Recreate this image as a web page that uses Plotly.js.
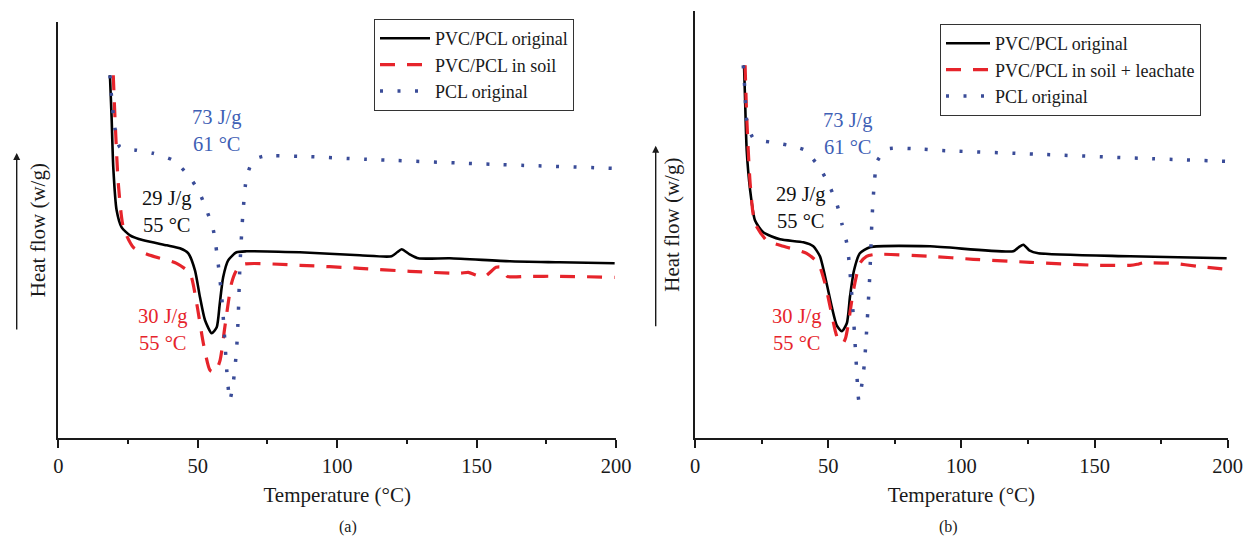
<!DOCTYPE html>
<html>
<head>
<meta charset="utf-8">
<script src="https://cdn.plot.ly/plotly-3.0.1.min.js"></script>
<style>html,body{margin:0;padding:0;background:#fff;}#chart{width:1244px;height:538px;}</style>
</head>
<body>
<div id="chart"></div>
<script>
// ---- Panel (a) ----
var aBlackT = [18.5, 19.1, 19.7, 20.9, 22.7, 25.7, 30.5, 38.9, 43.6, 46.6, 49.0, 50.8, 52.6, 55.0, 56.8, 57.9, 59.1, 60.9, 63.9, 67.5, 86.6, 108.1, 119.5, 121.5, 123.1, 126.0, 129.1, 140.4, 161.9, 179.8, 199.5];
var aBlackV = [363, 321, 271, 228, 211, 203, 198, 193, 190, 185, 168, 141, 118, 105, 111, 135, 161, 178, 186, 187, 186, 183, 182, 186, 189, 184, 180, 180, 177, 176, 175];

var aRedT = [19.7, 20.3, 21.5, 23.3, 26.9, 32.9, 42.4, 47.2, 49.6, 52.0, 54.4, 56.2, 58.0, 59.7, 62.1, 63.9, 66.3, 86.6, 108.1, 126.0, 144.0, 147.0, 150.0, 153.0, 157.0, 159.0, 161.0, 168.0, 179.8, 199.5];
var aRedV = [363, 321, 255, 211, 191, 183, 175, 165, 135, 95, 68, 66, 78, 111, 155, 168, 174, 173, 170, 167, 165, 166, 163, 162, 171, 171, 162, 162, 162, 161];

var aBlueT = [18.5, 19.1, 20.3, 22.1, 28.1, 34.0, 41.2, 46.6, 50.2, 53.2, 55.6, 57.3, 58.6, 59.7, 60.4, 61.5, 62.7, 63.9, 64.5, 65.1, 66.1, 67.5, 69.9, 73.5, 86.6, 110.5, 155.9, 198.9];
var aBlueV = [363, 341, 310, 291, 288, 285, 278, 263, 248, 228, 208, 175, 141, 98, 68, 38, 55, 88, 121, 171, 221, 261, 278, 282, 282, 279, 274, 270];

// ---- Panel (b) ----
var bBlackT = [18.4, 18.8, 19.4, 20.7, 22.5, 25.6, 31.9, 40.7, 44.4, 46.9, 49.4, 51.3, 53.2, 55.1, 57.0, 58.2, 59.7, 61.9, 65.7, 88.2, 119.5, 121.5, 123.3, 125.5, 128.9, 163.3, 199.6];
var bBlackV = [373, 338, 288, 248, 218, 206, 199, 196, 192, 182, 155, 132, 113, 107, 115, 142, 168, 185, 191, 192, 187, 191, 193.5, 188, 185, 182, 180];

var bRedT = [18.8, 19.4, 20.7, 22.5, 26.9, 33.2, 41.9, 46.3, 48.8, 50.7, 52.6, 53.8, 55.5, 56.5, 57.6, 58.7, 60.0, 61.9, 64.4, 68.1, 88.2, 104.5, 125.8, 150.8, 163.3, 166.0, 168.3, 172.0, 179.6, 188.4, 199.6];
var bRedV = [373, 322, 255, 215, 198, 192, 185, 175, 155, 132, 108, 98, 95, 100, 115, 135, 155, 175, 182, 184, 182, 179, 176, 173, 173, 174, 175.5, 175.5, 175, 172, 169];

var bBlueT = [18.1, 18.8, 19.4, 21.9, 28.8, 35.0, 41.3, 46.9, 50.0, 53.2, 55.1, 57.0, 57.9, 58.9, 59.8, 60.6, 61.5, 62.7, 63.6, 64.6, 65.6, 66.5, 67.4, 68.4, 72.0, 85.8, 90.7, 129.5, 167.1, 199.0];
var bBlueV = [373, 345, 318, 300, 296, 293, 288, 270, 255, 235, 215, 195, 175, 142, 108, 72, 38, 55, 75, 115, 162, 222, 258, 277, 289, 289, 288, 284, 280, 277];

var seriesNames = ['PVC/PCL original', 'PVC/PCL in soil', 'PCL original'];
var seriesNamesB = ['PVC/PCL original', 'PVC/PCL in soil + leachate', 'PCL original'];
var xTicks = [0, 50, 100, 150, 200];

var FONT = 'Liberation Serif, Times New Roman, serif';
var RED = '#e6242b', BLUE = '#3a4c98', BLUE_TXT = '#3f5fb5';
var ANN = 20.5;

function tr(x, y, name, style, xa, ya, leg) {
  var line = {shape: 'spline', smoothing: 0.6};
  if (style === 'solid') { line.color = '#000'; line.width = 2.6; line.dash = 'solid'; }
  if (style === 'dash') { line.color = RED; line.width = 3.2; line.dash = '15px,12px'; }
  if (style === 'dot') { line.color = BLUE; line.width = 3.5; line.dash = '3px,14.5px'; }
  return {x: x, y: y, name: name, type: 'scatter', mode: 'lines', line: line,
          xaxis: xa, yaxis: ya, legend: leg, hoverinfo: 'skip'};
}

var data = [
  tr(aBlackT, aBlackV, seriesNames[0], 'solid', 'x', 'y', 'legend'),
  tr(aRedT, aRedV, seriesNames[1], 'dash', 'x', 'y', 'legend'),
  tr(aBlueT, aBlueV, seriesNames[2], 'dot', 'x', 'y', 'legend'),
  tr(bBlackT, bBlackV, seriesNamesB[0], 'solid', 'x2', 'y2', 'legend2'),
  tr(bRedT, bRedV, seriesNamesB[1], 'dash', 'x2', 'y2', 'legend2'),
  tr(bBlueT, bBlueV, seriesNamesB[2], 'dot', 'x2', 'y2', 'legend2')
];

function xax(domain) {
  return {domain: domain, range: [0, 200], tickvals: xTicks, ticktext: xTicks.map(String),
    showline: true, linecolor: '#1a1a1a', linewidth: 2, ticks: 'outside', ticklen: 8, tickwidth: 2,
    tickcolor: '#1a1a1a', showgrid: false, zeroline: false, fixedrange: true,
    tickfont: {family: FONT, size: 20.5, color: '#1a1a1a'},
    minor: {tickvals: [25, 75, 125, 175], ticks: 'outside', ticklen: 4, tickwidth: 2, tickcolor: '#1a1a1a', showgrid: false},
    title: {text: 'Temperature (°C)', font: {family: FONT, size: 21, color: '#1a1a1a'}, standoff: 11},
    automargin: false};
}
function yax(domain, top, anchor, standoff) {
  return {domain: domain, range: [0, top], showline: true, linecolor: '#1a1a1a', linewidth: 2,
    ticks: '', showticklabels: false, showgrid: false, zeroline: false, fixedrange: true,
    anchor: anchor,
    title: {text: 'Heat flow (w/g)', font: {family: FONT, size: 21, color: '#1a1a1a'}, standoff: standoff},
    automargin: false};
}

var layout = {
  width: 1244, height: 538,
  margin: {l: 0, r: 0, t: 0, b: 0},
  paper_bgcolor: '#fff', plot_bgcolor: '#fff',
  font: {family: FONT, color: '#1a1a1a'},
  xaxis: Object.assign(xax([0.0469, 0.4952]), {anchor: 'y'}),
  yaxis: yax([0.1853, 0.9591], 416.3, 'x', 5),
  xaxis2: Object.assign(xax([0.5587, 0.9869]), {anchor: 'y2'}),
  yaxis2: yax([0.1853, 0.9796], 427.3, 'x2', 8),
  legend: {x: 374 / 1244, y: 1 - 19 / 538, xanchor: 'left', yanchor: 'top',
    bgcolor: '#fff', bordercolor: '#333', borderwidth: 1,
    font: {family: FONT, size: 18, color: '#1a1a1a'}, itemwidth: 50, tracegroupgap: 0},
  legend2: {x: 940 / 1244, y: 1 - 24 / 538, xanchor: 'left', yanchor: 'top',
    bgcolor: '#fff', bordercolor: '#333', borderwidth: 1,
    font: {family: FONT, size: 18, color: '#1a1a1a'}, itemwidth: 44, tracegroupgap: 0},
  showlegend: true,
  annotations: [
    {xref: 'x', yref: 'y', x: 56.8, y: 307.5, text: '73 J/g<br>61 °C', showarrow: false, font: {family: FONT, size: ANN, color: BLUE_TXT}},
    {xref: 'x', yref: 'y', x: 39.1, y: 226.6, text: '29 J/g<br>55 °C', showarrow: false, font: {family: FONT, size: ANN, color: '#111'}},
    {xref: 'x', yref: 'y', x: 37.6, y: 109.1, text: '30 J/g<br>55 °C', showarrow: false, font: {family: FONT, size: ANN, color: RED}},
    {xref: 'x2', yref: 'y2', x: 57.6, y: 305, text: '73 J/g<br>61 °C', showarrow: false, font: {family: FONT, size: ANN, color: BLUE_TXT}},
    {xref: 'x2', yref: 'y2', x: 39.8, y: 230.8, text: '29 J/g<br>55 °C', showarrow: false, font: {family: FONT, size: ANN, color: '#111'}},
    {xref: 'x2', yref: 'y2', x: 38.2, y: 109.1, text: '30 J/g<br>55 °C', showarrow: false, font: {family: FONT, size: ANN, color: RED}},
    {xref: 'paper', yref: 'paper', x: 16.7 / 1244, y: 1 - 153 / 538, ax: 0, ay: 178, axref: 'pixel', ayref: 'pixel',
      text: '', showarrow: true, arrowhead: 2, arrowsize: 1, arrowwidth: 1.4, arrowcolor: '#1a1a1a'},
    {xref: 'paper', yref: 'paper', x: 655.7 / 1244, y: 1 - 145.7 / 538, ax: 0, ay: 182, axref: 'pixel', ayref: 'pixel',
      text: '', showarrow: true, arrowhead: 2, arrowsize: 1, arrowwidth: 1.4, arrowcolor: '#1a1a1a'},
    {xref: 'paper', yref: 'paper', x: 336.7 / 1244, y: 1 - 527 / 538, yanchor: 'middle', text: '(a)', showarrow: false, font: {family: FONT, size: 16, color: '#1a1a1a'}},
    {xref: 'paper', yref: 'paper', x: 960 / 1244, y: 1 - 527 / 538, yanchor: 'middle', text: '(b)', showarrow: false, font: {family: FONT, size: 16, color: '#1a1a1a'}}
  ]
};

Plotly.newPlot('chart', data, layout, {staticPlot: true, displayModeBar: false});
</script>
</body>
</html>
